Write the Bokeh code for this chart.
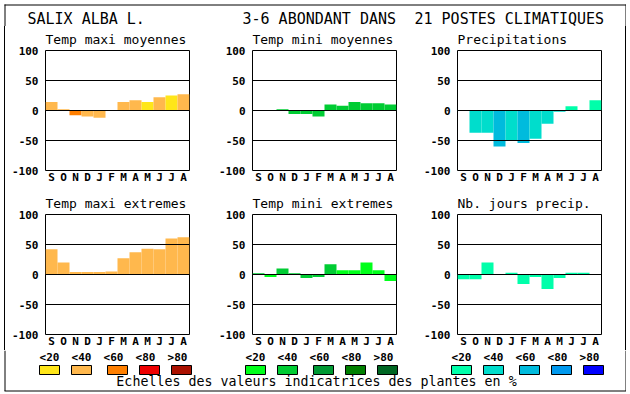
from bokeh.plotting import figure
from bokeh.models import Range1d, FixedTicker, Span, Spacer
from bokeh.layouts import column, row
from bokeh.core.properties import value
from bokeh.embed import file_html
from bokeh.resources import INLINE

MONO = "DejaVu Sans Mono"

months = ["S", "O", "N", "D", "J", "F", "M", "A", "M", "J", "J", "A"]
class_labels = ["<20", "<40", "<60", "<80", ">80"]

warm = ["#FFE619", "#FFB84D", "#FF7F00", "#EE0000", "#AA1100"]
green = ["#00FF1A", "#00CC33", "#009933", "#007F00", "#006622"]
blue = ["#00FFAA", "#00DDCC", "#00BBDD", "#0099EE", "#0000FF"]

header_texts = ["SALIX ALBA L.", "3-6 ABONDANT DANS", "21 POSTES CLIMATIQUES"]
footer_text = "Echelles des valeurs indicatrices des plantes en %"

tmax_moy = [14, 2, -8, -10, -12, 0, 14, 17, 14, 22, 25, 27]
tmax_moy_cls = [1, 1, 2, 1, 1, 1, 1, 1, 0, 1, 0, 1]
tmin_moy = [-1, -1, 2, -6, -6, -10, 10, 8, 14, 12, 12, 10]
tmin_moy_cls = [1] * 12
precip = [-1, -37, -37, -60, -50, -54, -47, -22, -2, 7, 0, 17]
precip_cls = [1, 1, 1, 2, 1, 2, 1, 1, 1, 0, 0, 0]
tmax_ext = [42, 20, 4, 4, 4, 5, 27, 37, 43, 42, 60, 62]
tmax_ext_cls = [1] * 12
tmin_ext = [2, -4, 10, 2, -6, -4, 17, 7, 7, 20, 7, -11]
tmin_ext_cls = [1, 0, 1, 1, 1, 1, 1, 0, 0, 0, 0, 0]
njours = [-8, -8, 20, 0, 3, -16, -4, -24, -6, 3, 3, 0]
njours_cls = [0] * 12

y_ticks = [-100, -50, 0, 50, 100]

W = 626          # canvas width (frame right line at 625)
X0 = 4           # frame left line
H_HDR = 26
H_LEG = 42
TOP1, TOP2, BOT = 24, 28, 16


def panel(title, vals, cls, pal, left, right, top, bottom):
    p = figure(frame_width=144, frame_height=120,
               x_range=Range1d(-0.5, 11.5), y_range=Range1d(-100, 100),
               output_backend="svg", toolbar_location=None, title=title,
               min_border_left=left, min_border_right=right,
               min_border_top=top, min_border_bottom=bottom)
    p.title.text_font = MONO
    p.title.text_font_style = "normal"
    p.title.text_font_size = "13px"
    p.title.align = "left"
    p.title.standoff = 7
    p.title.text_color = "black"
    p.vbar(x=list(range(12)), width=1, top=vals, bottom=0,
           fill_color=[pal[c] for c in cls], line_color=None)
    for v in (-50, 0, 50):
        p.add_layout(Span(location=v, dimension="width", line_color="black", line_width=1))
    p.xgrid.visible = False
    p.ygrid.visible = False
    p.outline_line_color = "black"
    p.outline_line_width = 1
    p.outline_line_alpha = 1
    p.background_fill_color = "white"
    p.border_fill_color = "white"
    xa = p.xaxis[0]
    xa.ticker = FixedTicker(ticks=list(range(12)))
    xa.major_label_overrides = {i: m for i, m in enumerate(months)}
    ya = p.yaxis[0]
    ya.ticker = FixedTicker(ticks=y_ticks)
    ya.major_label_overrides = {t: str(t) for t in y_ticks}
    for ax in (xa, ya):
        ax.axis_line_color = None
        ax.major_tick_line_color = None
        ax.minor_tick_line_color = None
        ax.major_tick_out = 0
        ax.major_tick_in = 0
        ax.minor_tick_out = 0
        ax.minor_tick_in = 0
        ax.major_label_text_font = MONO
        ax.major_label_text_font_style = "bold"
        ax.major_label_text_font_size = "11px"
        ax.major_label_text_color = "black"
    xa.major_label_standoff = 0
    ya.major_label_standoff = 7
    return p


borders = [(40, 25), (38, 24), (37, 24)]

p1 = panel("Temp maxi moyennes", tmax_moy, tmax_moy_cls, warm, *borders[0], TOP1, BOT)
p2 = panel("Temp mini moyennes", tmin_moy, tmin_moy_cls, green, *borders[1], TOP1, BOT)
p3 = panel("Precipitations", precip, precip_cls, blue, *borders[2], TOP1, BOT)
p4 = panel("Temp maxi extremes", tmax_ext, tmax_ext_cls, warm, *borders[0], TOP2, BOT)
p5 = panel("Temp mini extremes", tmin_ext, tmin_ext_cls, green, *borders[1], TOP2, BOT)
p6 = panel("Nb. jours precip.", njours, njours_cls, blue, *borders[2], TOP2, BOT)


def canvas(w, h):
    c = figure(width=w, height=h, x_range=Range1d(0, w), y_range=Range1d(h, 0),
               output_backend="svg", toolbar_location=None, min_border=0)
    c.axis.visible = False
    c.grid.visible = False
    c.outline_line_color = None
    c.border_fill_color = "white"
    c.background_fill_color = "white"
    return c


def vline(h):
    return Spacer(width=1, height=h, styles={"background-color": "black"})


hdr = canvas(W, H_HDR)
hdr.segment(x0=[X0 + 0.5, W - 0.5, X0], y0=[X0, X0, X0 + 0.5],
            x1=[X0 + 0.5, W - 0.5, W], y1=[H_HDR, H_HDR, X0 + 0.5],
            line_color="black", line_width=1)
hdr.text(x=[27, 242, 414], y=[18] * 3, text=header_texts,
         text_font=value(MONO), text_font_size=value("15px"),
         text_baseline="middle", text_align="left", text_color="black")

leg = canvas(W, H_LEG)
bottom_y = H_LEG - 1.5
leg.segment(x0=[X0 + 0.5, W - 0.5, X0], y0=[0, 0, bottom_y],
            x1=[X0 + 0.5, W - 0.5, W], y1=[bottom_y, bottom_y, bottom_y],
            line_color="black", line_width=1)
group_starts = [39, 245, 451]
label_offsets = [10, 42, 74, 106, 138]
box_offsets = [10, 42, 78, 110, 142]
for g, pal in zip(group_starts, [warm, green, blue]):
    leg.text(x=[g + o for o in label_offsets], y=[6.6] * 5, text=class_labels,
             text_font=value(MONO), text_font_size=value("11px"),
             text_font_style="bold", text_baseline="middle", text_align="center",
             text_color="black")
    leg.rect(x=[g + o for o in box_offsets], y=[19.5] * 5, width=20, height=9,
             fill_color=pal, line_color="black", line_width=1)
leg.text(x=[316], y=[31], text=[footer_text],
         text_font=value(MONO), text_font_size=value("13.3px"),
         text_baseline="middle", text_align="center", text_color="black")

h1 = TOP1 + 120 + BOT
h2 = TOP2 + 120 + BOT
layout = column(hdr,
                row(Spacer(width=X0, height=h1), vline(h1), p1, p2, p3, vline(h1)),
                row(Spacer(width=X0, height=h2), vline(h2), p4, p5, p6, vline(h2)),
                leg)

open("out.html", "w").write(file_html(layout, INLINE))
